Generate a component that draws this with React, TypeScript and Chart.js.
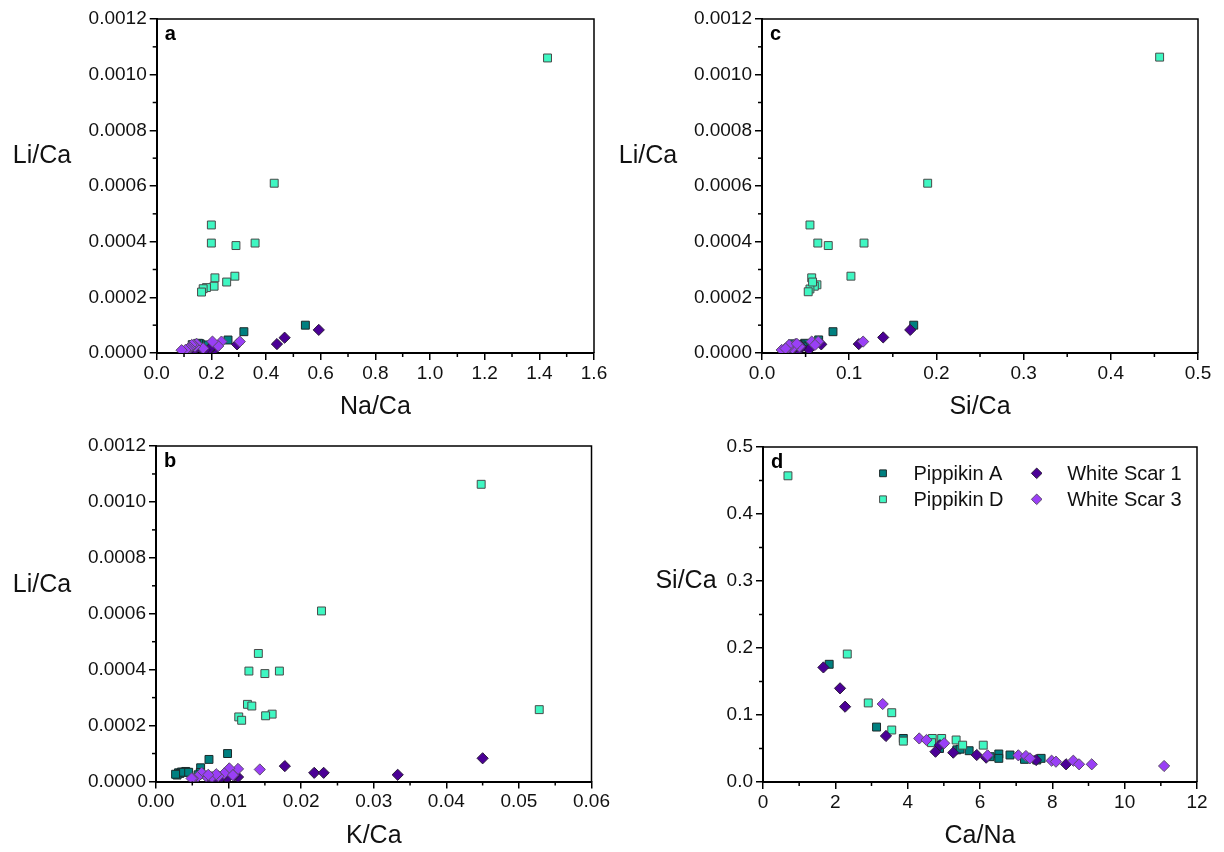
import React, { useEffect, useRef } from "react";
import { Chart, registerables } from "chart.js";
Chart.register(...registerables);

const FONT = "'Liberation Sans', Arial, Helvetica, sans-serif";

type Pt = [number, number];

// ---------- Panel a : Na/Ca vs Li/Ca ----------
const aPippikinA: Pt[] = [[0.544, 0.0001], [0.319, 0.0000765], [0.261, 0.0000467], [0.205, 0.000022], [0.19, 0.000015], [0.183, 0.000025], [0.175, 0.000029], [0.159, 0.000033], [0.153, 0.000035], [0.146, 0.000031], [0.138, 0.000028], [0.132, 0.000024], [0.13, 0.00003]];
const aPippikinD: Pt[] = [[1.43, 0.00106], [0.43, 0.00061], [0.2, 0.00046], [0.2, 0.000395], [0.36, 0.000395], [0.29, 0.000386], [0.286, 0.000276], [0.213, 0.00027], [0.256, 0.000255], [0.21, 0.00024], [0.182, 0.000235], [0.17, 0.000231], [0.164, 0.000219]];
const aWhiteScar1: Pt[] = [[0.593, 0.000083], [0.468, 0.000055], [0.44, 0.000032], [0.294, 0.000031], [0.21, 0.000012], [0.204, 0.000022], [0.195, 0.000017], [0.176, 0.000011], [0.165, 0.000015], [0.135, 0.000009], [0.12, 0.000012]];
const aWhiteScar3: Pt[] = [[0.304, 0.000041], [0.237, 0.000041], [0.225, 0.000025], [0.204, 0.000041], [0.17, 0.000017], [0.146, 0.000033], [0.14, 0.000023], [0.135, 0.000029], [0.128, 0.000029], [0.122, 0.000019], [0.117, 0.000016], [0.112, 0.000013], [0.105, 0.000011], [0.091, 0.00001]];

// ---------- Panel b : K/Ca vs Li/Ca ----------
const bPippikinA: Pt[] = [[0.00986, 0.0001], [0.0073, 0.000079], [0.00615, 0.000049], [0.0061, 0.000032], [0.0041, 0.000036], [0.0035, 0.000034], [0.0031, 0.000031], [0.0033, 0.000029], [0.0029, 0.000023], [0.0027, 0.000026], [0.0038, 0.000033], [0.0058, 0.000024], [0.0045, 0.000033]];
const bPippikinD: Pt[] = [[0.0448, 0.001063], [0.0228, 0.00061], [0.0141, 0.000458], [0.0128, 0.000395], [0.017, 0.000395], [0.015, 0.000386], [0.0126, 0.000276], [0.0132, 0.00027], [0.0528, 0.000257], [0.016, 0.000241], [0.0151, 0.000235], [0.0114, 0.000231], [0.0118, 0.000219]];
const bWhiteScar1: Pt[] = [[0.045, 0.000083], [0.01775, 0.000055], [0.0218, 0.000031], [0.0231, 0.000031], [0.0333, 0.000024], [0.0113, 0.000016], [0.0108, 0.000022], [0.0098, 0.000012], [0.009, 0.000015], [0.0082, 0.00001], [0.0072, 0.000013]];
const bWhiteScar3: Pt[] = [[0.0143, 0.000043], [0.0113, 0.000045], [0.0101, 0.000047], [0.0094, 0.000029], [0.0106, 0.000023], [0.0086, 0.000019], [0.0077, 0.000016], [0.0069, 0.000019], [0.0063, 0.000031], [0.0057, 0.000016], [0.0051, 0.000011], [0.0049, 0.000011], [0.0083, 0.000026], [0.0072, 0.000024]];

// ---------- Panel c : Si/Ca vs Li/Ca ----------
const cPippikinA: Pt[] = [[0.174, 0.0001], [0.0814, 0.0000765], [0.065, 0.000047], [0.049, 0.000035], [0.045, 0.000029], [0.04, 0.000024], [0.036, 0.00003], [0.035, 0.000033], [0.033, 0.000026], [0.047, 0.000022], [0.038, 0.00002], [0.041, 0.000031], [0.058, 0.000033]];
const cPippikinD: Pt[] = [[0.456, 0.001063], [0.19, 0.00061], [0.055, 0.00046], [0.064, 0.000395], [0.117, 0.000395], [0.076, 0.000386], [0.102, 0.000276], [0.057, 0.00027], [0.063, 0.000245], [0.06, 0.00024], [0.055, 0.00023], [0.053, 0.00022], [0.058, 0.000255]];
const cWhiteScar1: Pt[] = [[0.17, 0.000083], [0.139, 0.000056], [0.111, 0.000032], [0.068, 0.000031], [0.054, 0.000013], [0.045, 0.000022], [0.044, 0.000017], [0.04, 0.000011], [0.036, 0.000015], [0.033, 0.000009], [0.026, 0.000012]];
const cWhiteScar3: Pt[] = [[0.116, 0.000041], [0.057, 0.000041], [0.0646, 0.000041], [0.0608, 0.000029], [0.038, 0.000032], [0.032, 0.000025], [0.043, 0.000023], [0.035, 0.000017], [0.026, 0.000013], [0.0226, 0.000011], [0.03, 0.000019], [0.031, 0.000029], [0.04, 0.000033], [0.027, 0.000016]];

// ---------- Panel d : Ca/Na vs Si/Ca ----------
const dPippikinA: Pt[] = [[1.83, 0.1757], [3.14, 0.082], [3.88, 0.065], [4.88, 0.05], [5.36, 0.048], [5.45, 0.049], [5.7, 0.0467], [6.28, 0.0378], [6.52, 0.0418], [6.52, 0.0353], [6.83, 0.0403], [7.23, 0.0338], [7.57, 0.0328], [7.69, 0.0353]];
const dPippikinD: Pt[] = [[0.69, 0.457], [2.33, 0.191], [2.91, 0.118], [3.56, 0.1034], [3.56, 0.0776], [3.88, 0.061], [4.68, 0.065], [4.66, 0.0587], [4.94, 0.065], [5.34, 0.0627], [5.52, 0.055], [6.09, 0.055]];
const dWhiteScar1: Pt[] = [[1.67, 0.171], [2.13, 0.1398], [2.27, 0.1124], [3.4, 0.0687], [4.77, 0.0452], [4.89, 0.055], [5.26, 0.0438], [5.91, 0.0403], [6.17, 0.0363], [7.55, 0.0328], [8.38, 0.0264]];
const dWhiteScar3: Pt[] = [[3.31, 0.1164], [4.32, 0.065], [4.52, 0.0627], [5.01, 0.0578], [6.21, 0.0398], [7.06, 0.0398], [7.27, 0.0388], [7.38, 0.0353], [7.98, 0.0318], [8.1, 0.0303], [8.58, 0.0318], [8.74, 0.0264], [9.09, 0.0264], [11.09, 0.0239]];

const seriesNames = ["Pippikin A", "Pippikin D", "White Scar 1", "White Scar 3"];

const STYLE = [
  { shape: "rect", fill: "#008080", border: "#1c2a2a" },
  { shape: "rect", fill: "#3ff7c2", border: "#4a4a4a" },
  { shape: "rectRot", fill: "#4b0096", border: "#2a1a3a" },
  { shape: "rectRot", fill: "#9a3ff6", border: "#5a4a6a" },
];

interface Area { l: number; t: number; r: number; b: number }
interface PanelCfg {
  letter: string;
  xTitle: string;
  yTitle: string;
  xMax: number; xStep: number; xDec: number;
  yMax: number; yStep: number; yDec: number;
  area: Area;
  yTitlePos: [number, number];
  data: Pt[][];
  legend: boolean;
  left: number; top: number;
}

const W = 612;
const H = 426;

const panels: PanelCfg[] = [
  {
    letter: "a", xTitle: "Na/Ca", yTitle: "Li/Ca",
    xMax: 1.6, xStep: 0.2, xDec: 1, yMax: 0.0012, yStep: 0.0002, yDec: 4,
    area: { l: 156.7, t: 19, r: 594, b: 353 }, yTitlePos: [42, 156],
    data: [aPippikinA, aPippikinD, aWhiteScar1, aWhiteScar3], legend: false, left: 0, top: 0,
  },
  {
    letter: "c", xTitle: "Si/Ca", yTitle: "Li/Ca",
    xMax: 0.5, xStep: 0.1, xDec: 1, yMax: 0.0012, yStep: 0.0002, yDec: 4,
    area: { l: 150, t: 19, r: 586, b: 353 }, yTitlePos: [36, 156],
    data: [cPippikinA, cPippikinD, cWhiteScar1, cWhiteScar3], legend: false, left: 612, top: 0,
  },
  {
    letter: "b", xTitle: "K/Ca", yTitle: "Li/Ca",
    xMax: 0.06, xStep: 0.01, xDec: 2, yMax: 0.0012, yStep: 0.0002, yDec: 4,
    area: { l: 156, t: 20, r: 592, b: 355.5 }, yTitlePos: [42, 159],
    data: [bPippikinA, bPippikinD, bWhiteScar1, bWhiteScar3], legend: false, left: 0, top: 426,
  },
  {
    letter: "d", xTitle: "Ca/Na", yTitle: "Si/Ca",
    xMax: 12, xStep: 2, xDec: 0, yMax: 0.5, yStep: 0.1, yDec: 1,
    area: { l: 151, t: 21, r: 585, b: 356 }, yTitlePos: [74, 155],
    data: [dPippikinA, dPippikinD, dWhiteScar1, dWhiteScar3], legend: true, left: 612, top: 426,
  },
];

function drawMarker(ctx: CanvasRenderingContext2D, shape: string, x: number, y: number, r: number, fill: string, border: string) {
  ctx.save();
  ctx.fillStyle = fill;
  ctx.strokeStyle = border;
  ctx.lineWidth = 1;
  ctx.beginPath();
  if (shape === "rect") {
    const s = r * Math.SQRT1_2;
    ctx.rect(x - s, y - s, 2 * s, 2 * s);
  } else {
    ctx.moveTo(x, y - r);
    ctx.lineTo(x + r, y);
    ctx.lineTo(x, y + r);
    ctx.lineTo(x - r, y);
    ctx.closePath();
  }
  ctx.fill();
  ctx.stroke();
  ctx.restore();
}

function makeDecor(cfg: PanelCfg) {
  return {
    id: "decor" + cfg.letter,
    afterDraw(chart: any) {
      const ctx: CanvasRenderingContext2D = chart.ctx;
      const ca = chart.chartArea;
      const xs = chart.scales.x;
      const ys = chart.scales.y;
      ctx.save();
      // frame top + right
      ctx.strokeStyle = "#000";
      ctx.lineWidth = 1.5;
      ctx.beginPath();
      ctx.moveTo(ca.left, ca.top);
      ctx.lineTo(ca.right, ca.top);
      ctx.lineTo(ca.right, ca.bottom);
      ctx.stroke();
      // minor ticks
      ctx.lineWidth = 1.5;
      const nx = Math.round(cfg.xMax / (cfg.xStep / 2));
      for (let i = 1; i < nx; i += 2) {
        const px = xs.getPixelForValue((i * cfg.xStep) / 2);
        ctx.beginPath();
        ctx.moveTo(px, ca.bottom);
        ctx.lineTo(px, ca.bottom + 4);
        ctx.stroke();
      }
      const ny = Math.round(cfg.yMax / (cfg.yStep / 2));
      for (let i = 1; i < ny; i += 2) {
        const py = ys.getPixelForValue((i * cfg.yStep) / 2);
        ctx.beginPath();
        ctx.moveTo(ca.left, py);
        ctx.lineTo(ca.left - 4, py);
        ctx.stroke();
      }
      // letter
      ctx.fillStyle = "#000";
      ctx.font = `bold 20px ${FONT}`;
      ctx.textAlign = "left";
      ctx.textBaseline = "alphabetic";
      ctx.fillText(cfg.letter, ca.left + 8, ca.top + 21);
      // axis titles
      ctx.font = `25px ${FONT}`;
      ctx.fillStyle = "#111";
      ctx.textAlign = "center";
      ctx.fillText(cfg.xTitle, (ca.left + ca.right) / 2, ca.bottom + 61);
      ctx.textBaseline = "middle";
      ctx.fillText(cfg.yTitle, cfg.yTitlePos[0], cfg.yTitlePos[1]);
      // legend
      if (cfg.legend) {
        const cols = [271, 424.7];
        const rows = [47.3, 73.3];
        ctx.font = `20px ${FONT}`;
        ctx.textBaseline = "middle";
        ctx.textAlign = "left";
        for (let k = 0; k < 4; k++) {
          const cx = cols[Math.floor(k / 2)];
          const cy = rows[k % 2];
          const st = STYLE[k];
          drawMarker(ctx, st.shape, cx, cy, st.shape === "rect" ? 4.8 : 5.3, st.fill, st.border);
          ctx.fillStyle = "#111";
          ctx.fillText(seriesNames[k], cx + 30.5, cy + 1);
        }
      }
      ctx.restore();
    },
  };
}

function Panel({ cfg }: { cfg: PanelCfg }) {
  const ref = useRef<HTMLCanvasElement | null>(null);
  useEffect(() => {
    if (!ref.current) return;
    const order = [3, 2, 1, 0]; // White Scar 3 on top
    const datasets = order.map((k) => ({
      label: seriesNames[k],
      data: cfg.data[k].map(([x, y]) => ({ x, y })),
      pointStyle: STYLE[k].shape as any,
      pointRadius: 5.6,
      pointHoverRadius: 5.6,
      pointBackgroundColor: STYLE[k].fill,
      pointBorderColor: STYLE[k].border,
      pointBorderWidth: 1,
      showLine: false,
    }));
    const a = cfg.area;
    const tickFont = { family: FONT, size: 19 };
    const chart = new Chart(ref.current, {
      type: "scatter",
      data: { datasets },
      options: {
        animation: false,
        responsive: false,
        maintainAspectRatio: false,
        devicePixelRatio: 1,
        events: [],
        layout: { padding: { left: 0, top: a.t, right: W - a.r, bottom: 0 } },
        plugins: { legend: { display: false }, tooltip: { enabled: false } },
        scales: {
          x: {
            type: "linear",
            min: 0,
            max: cfg.xMax,
            afterFit: (s: any) => { s.height = H - a.b; },
            ticks: {
              stepSize: cfg.xStep,
              autoSkip: false,
              maxRotation: 0,
              color: "#111",
              font: tickFont,
              padding: 2,
              callback: (v: any) => Number(v).toFixed(cfg.xDec),
            },
            grid: { display: true, drawOnChartArea: false, drawTicks: true, tickLength: 7, color: "#000", lineWidth: 1.5 },
            border: { display: true, color: "#000", width: 2 },
          },
          y: {
            type: "linear",
            min: 0,
            max: cfg.yMax,
            afterFit: (s: any) => { s.width = a.l; },
            ticks: {
              stepSize: cfg.yStep,
              autoSkip: false,
              color: "#111",
              font: tickFont,
              padding: 3,
              callback: (v: any) => Number(v).toFixed(cfg.yDec),
            },
            grid: { display: true, drawOnChartArea: false, drawTicks: true, tickLength: 7, color: "#000", lineWidth: 1.5 },
            border: { display: true, color: "#000", width: 2 },
          },
        },
      } as any,
      plugins: [makeDecor(cfg)],
    });
    return () => chart.destroy();
  }, [cfg]);
  return (
    <canvas
      ref={ref}
      width={W}
      height={H}
      style={{ position: "absolute", left: cfg.left, top: cfg.top, width: W, height: H }}
    />
  );
}

export default function App() {
  return (
    <div style={{ position: "absolute", left: 0, top: 0, width: 1224, height: 852, background: "#fff", overflow: "hidden" }}>
      {panels.map((p) => (
        <Panel key={p.letter} cfg={p} />
      ))}
    </div>
  );
}
